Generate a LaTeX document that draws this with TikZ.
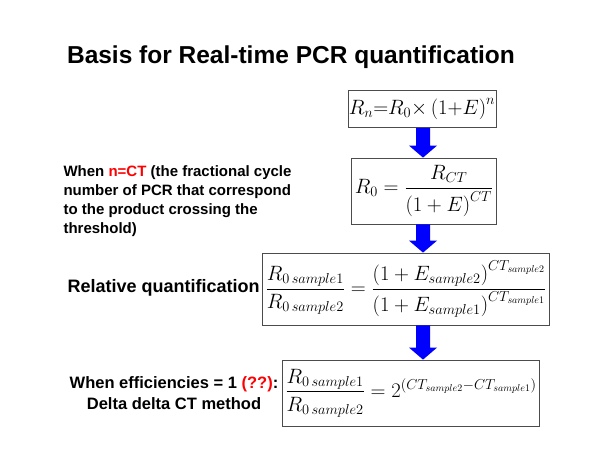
\documentclass[tikz,border=0pt]{standalone}
\usepackage{amsmath}
\usepackage{fontspec}
\setmainfont{Liberation Sans}
\usetikzlibrary{calc}
\begin{document}
\begin{tikzpicture}[x=1pt,y=-1pt,
 box/.style={draw=black!70,line width=0.8pt,fill=white,inner sep=3pt},
 lbl/.style={font=\bfseries\fontsize{15}{19}\selectfont,align=left}]
\useasboundingbox (0,0) rectangle (600,464);
\node (title) at (291,57) {\bfseries\fontsize{24.5}{28}\selectfont Basis for Real-time PCR quantification};
\node[box,minimum width=147pt,minimum height=37pt,inner sep=1pt] (e1) at (422,109) {\fontsize{20}{24}\selectfont $R_n {=} R_0{\times}\left(1{+}E\right)^n$};
\node[box,minimum width=134pt,minimum height=66pt] (e2) at (424,191) {\fontsize{21}{25}\selectfont $R_0=\dfrac{R_{CT}}{\left(1+E\right)^{CT}}$};
\node[box,minimum width=248pt,minimum height=72pt] (e3) at (406,289) {\fontsize{20}{24}\selectfont $\dfrac{R_{0\,sample1}}{R_{0\,sample2}}=\dfrac{\left(1+E_{sample2}\right)^{CT_{sample2}}}{\left(1+E_{sample1}\right)^{CT_{sample1}}}$};
\node[box,minimum width=226pt,minimum height=66pt] (e4) at (411,393) {\fontsize{20}{24}\selectfont $\dfrac{R_{0\,sample1}}{R_{0\,sample2}}=2^{(CT_{sample2}-CT_{sample1})}$};
\foreach \a/\b in {e1/e2,e2/e3,e3/e4}{
 \fill[blue] let \p1=(\a.south), \p2=(\b.north) in
  (416pt,\y1) -- (416pt,\y2+12pt) -- (409pt,\y2+12pt) -- (423pt,\y2) -- (437pt,\y2+12pt) -- (430pt,\y2+12pt) -- (430pt,\y1) -- cycle;
}
\node[lbl,anchor=west] (t1) at (60,201) {When \textcolor{red}{n=CT} (the fractional cycle\\number of PCR that correspond\\to the product crossing the\\threshold)};
\node[lbl,anchor=west,font=\bfseries\fontsize{18}{22}\selectfont] (t2) at (64,288) {Relative quantification};
\node[lbl,align=center,font=\bfseries\fontsize{16.5}{21}\selectfont] (t3) at (174,393) {When efficiencies = 1 \textcolor{red}{(??)}:\\Delta delta CT method};
\end{tikzpicture}
\end{document}
